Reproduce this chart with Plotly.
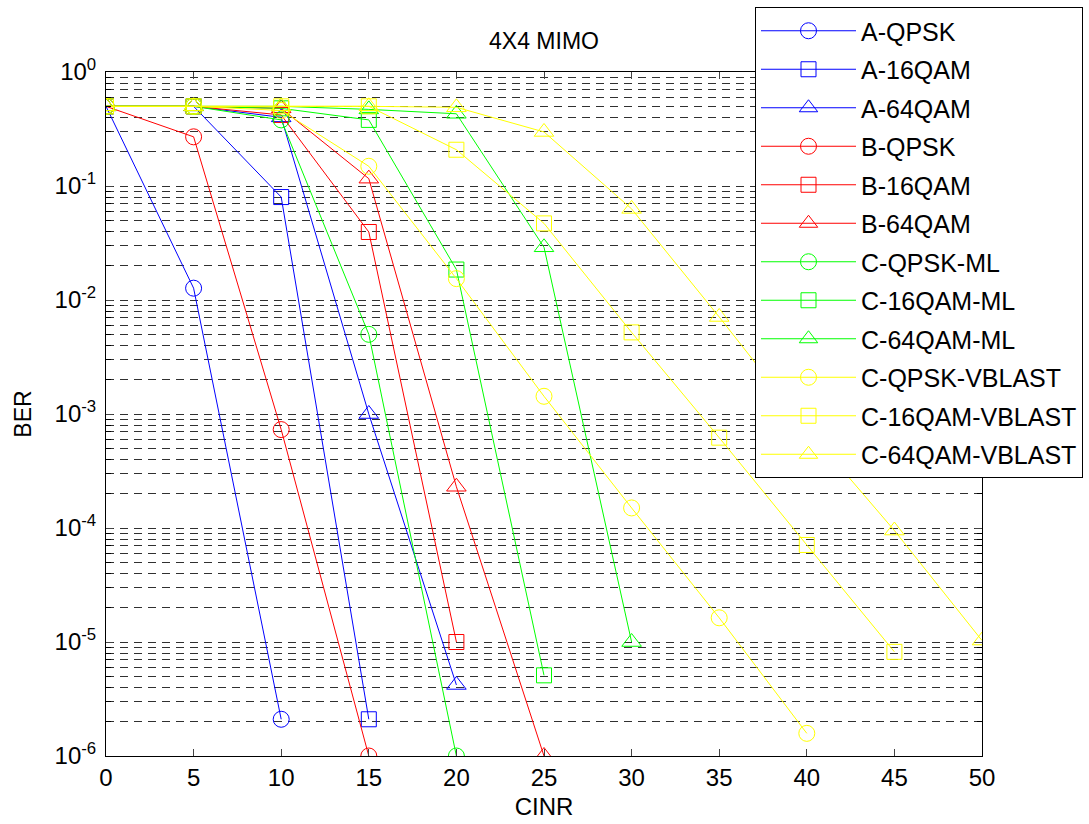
import plotly.graph_objects as go

cinr = [0, 5, 10, 15, 20, 25, 30, 35, 40, 45, 50]

names = ["A-QPSK", "A-16QAM", "A-64QAM", "B-QPSK", "B-16QAM", "B-64QAM",
         "C-QPSK-ML", "C-16QAM-ML", "C-64QAM-ML",
         "C-QPSK-VBLAST", "C-16QAM-VBLAST", "C-64QAM-VBLAST"]

a_qpsk = [0.5, 0.0127, 2.1e-6]
a_16qam = [0.5, 0.5, 0.08, 2.1e-6]
a_64qam = [0.5, 0.5, 0.40, 1.0e-3, 4.2e-6]
b_qpsk = [0.5, 0.27, 7.3e-4, 1.0e-6]
b_16qam = [0.5, 0.5, 0.42, 0.0395, 1.0e-5]
b_64qam = [0.5, 0.5, 0.48, 0.116, 2.3e-4, 1.0e-6]
c_qpsk_ml = [0.5, 0.5, 0.38, 5.0e-3, 1.0e-6]
c_16qam_ml = [0.5, 0.5, 0.48, 0.38, 0.0185, 5.1e-6]
c_64qam_ml = [0.5, 0.5, 0.5, 0.47, 0.43, 0.029, 1.0e-5]
c_qpsk_vb = [0.5, 0.5, 0.46, 0.149, 0.0154, 1.43e-3, 1.5e-4, 1.63e-5, 1.58e-6]
c_16qam_vb = [0.5, 0.5, 0.5, 0.5, 0.208, 0.047, 5.2e-3, 6.2e-4, 7.1e-5, 8.2e-6]
c_64qam_vb = [0.5, 0.5, 0.5, 0.5, 0.49, 0.298, 0.063, 7.1e-3, 7.5e-4, 9.5e-5, 1.03e-5]

series = [a_qpsk, a_16qam, a_64qam, b_qpsk, b_16qam, b_64qam,
          c_qpsk_ml, c_16qam_ml, c_64qam_ml, c_qpsk_vb, c_16qam_vb, c_64qam_vb]
colors = ["#0000ff"] * 3 + ["#ff0000"] * 3 + ["#00ff00"] * 3 + ["#ffff00"] * 3
symbols = ["circle-open", "square-open", "triangle-up-open"] * 4
sizes = [16, 15, 17] * 4

x_ticks = [0, 5, 10, 15, 20, 25, 30, 35, 40, 45, 50]
decades = [-6, -5, -4, -3, -2, -1, 0]

fig = go.Figure()
for i, (nm, ys) in enumerate(zip(names, series)):
    fig.add_trace(go.Scatter(
        x=cinr[:len(ys)], y=ys, name=nm, mode="lines+markers",
        line=dict(color=colors[i], width=1),
        marker=dict(symbol=symbols[i], size=sizes[i], color=colors[i],
                    line=dict(color=colors[i], width=1)),
        legendgroup=nm,
    ))

# log-axis tick positions: labelled decades, plus unlabelled 2..9 minor positions
y_major = [10.0 ** d for d in decades]
y_major_text = [f"10<sup>{d}</sup>" for d in decades]
y_minor = [m * 10.0 ** d for d in decades[:-1] for m in range(2, 10)]

font = "Liberation Sans, Arial, sans-serif"
grid_col = "#303030"
fig.update_layout(
    width=1089, height=824,
    paper_bgcolor="white", plot_bgcolor="white",
    margin=dict(l=106, r=107, t=72, b=68, autoexpand=False),
    font=dict(family=font, size=23, color="black"),
    title=dict(text="4X4 MIMO", x=0.5, xref="paper", xanchor="center",
               y=1 - 41 / 824, yanchor="middle", font=dict(size=23)),
    showlegend=True,
    legend=dict(x=(755 - 106) / 876, y=(756 - 7) / 684, xanchor="left", yanchor="top",
                bgcolor="white", bordercolor="black", borderwidth=1,
                font=dict(size=25), tracegroupgap=3, itemwidth=95, maxheight=560),
    xaxis=dict(range=[0, 50], tickvals=x_ticks, ticks="inside", ticklen=7,
               showline=True, linecolor="black", linewidth=1, mirror="ticks",
               showgrid=False, zeroline=False, tickfont=dict(size=24),
               automargin=False,
               title=dict(text="CINR", font=dict(size=24), standoff=8)),
    yaxis=dict(type="log", range=[-6, 0], tickvals=y_major, ticktext=y_major_text,
               ticks="inside", ticklen=7, showline=True, linecolor="black",
               linewidth=1, mirror="ticks", showgrid=True, gridcolor=grid_col,
               gridwidth=1, griddash="8px,6px", zeroline=False,
               minor=dict(tickvals=y_minor, ticks="inside", ticklen=5,
                          tickcolor="black", showgrid=True, gridcolor=grid_col,
                          gridwidth=1, griddash="8px,6px"),
               tickfont=dict(size=24), ticklabelstandoff=4, automargin=False,
               title=dict(text="BER", font=dict(size=23), standoff=16)),
)

fig.write_html("out.html", config={"displayModeBar": False},
               post_script="document.body.style.margin='0';")
